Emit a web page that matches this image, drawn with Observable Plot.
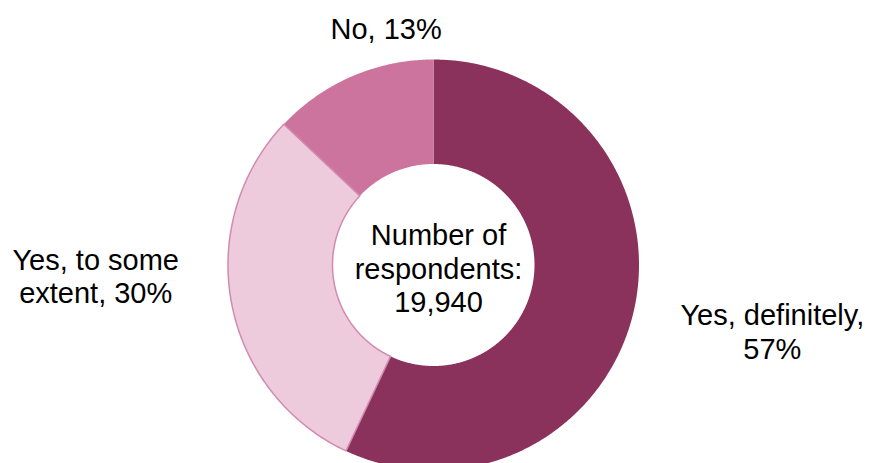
<!DOCTYPE html>
<html>
<head>
<meta charset="utf-8">
<script src="https://cdn.jsdelivr.net/npm/d3@7"></script>
<script src="https://cdn.jsdelivr.net/npm/@observablehq/plot@0.6"></script>
<style>
  html, body { margin: 0; padding: 0; background: #ffffff; }
  #chart svg { display: block; background: #ffffff; }
</style>
</head>
<body>
<div id="chart"></div>
<script>
// ---- data ----
const categories = ["Yes, definitely", "Yes, to some extent", "No"];
const shares = [57, 30, 13];
const labels = ["Yes, definitely,\n57%", "Yes, to some\nextent, 30%", "No, 13%"];
const colors = ["#8a325c", "#eecbdc", "#cd749e"];
const centerText = ["Number of", "respondents:", "19,940"];

// ---- layout ----
const W = 870, H = 463;
const cx = 433, cy = 264.5, R = 205.5;   // pixel centre and outer radius
const innerFrac = 101 / 205.5;
const fontFamily = "'Liberation Sans', Arial, sans-serif";
const fontSize = 29;
const lineHeight = 1.16;

const total = d3.sum(shares);
let acc = 0;
const slices = categories.map((c, i) => {
  const a0 = acc / total * 2 * Math.PI;
  acc += shares[i];
  const a1 = acc / total * 2 * Math.PI;
  return {key: c, a0, a1, mid: (a0 + a1) / 2, color: colors[i], label: labels[i]};
});

function ringPoints(s) {
  const n = Math.max(8, Math.ceil((s.a1 - s.a0) / (Math.PI / 360)));
  const pts = [];
  for (let k = 0; k <= n; k++) {
    const a = s.a0 + (s.a1 - s.a0) * k / n;
    pts.push({key: s.key, x: Math.sin(a), y: Math.cos(a)});
  }
  for (let k = n; k >= 0; k--) {
    const a = s.a0 + (s.a1 - s.a0) * k / n;
    pts.push({key: s.key, x: innerFrac * Math.sin(a), y: innerFrac * Math.cos(a)});
  }
  return pts;
}

const labelR = 1.5;
const nudges = {
  "Yes, definitely": [38, -1],
  "Yes, to some extent": [-35, -47],
  "No": [75, 46]
};

const drawOrder = ["Yes, definitely", "No", "Yes, to some extent"];
const sliceMarks = drawOrder.map(k => {
  const s = slices.find(d => d.key === k);
  const outlined = k === "Yes, to some extent";
  return Plot.line(ringPoints(s), {
    x: "x", y: "y", curve: "linear-closed",
    fill: s.color,
    stroke: outlined ? "#d28ab0" : "none",
    strokeWidth: outlined ? 1.5 : 0
  });
});

const labelMarks = slices.map(s => Plot.text([s], {
  x: d => labelR * Math.sin(d.mid),
  y: d => labelR * Math.cos(d.mid),
  text: "label",
  dx: nudges[s.key][0],
  dy: nudges[s.key][1],
  textAnchor: "middle",
  lineAnchor: "middle",
  lineHeight,
  fontSize,
  fontFamily,
  fill: "#000000"
}));

const chart = Plot.plot({
  width: W,
  height: H,
  marginTop: 0, marginBottom: 0, marginLeft: 0, marginRight: 0,
  style: {background: "#ffffff", fontFamily},
  x: {domain: [-cx / R, (W - cx) / R], axis: null},
  y: {domain: [-(H - cy) / R, cy / R], axis: null},
  marks: [
    ...sliceMarks,
    ...labelMarks,
    Plot.text([centerText.join("\n")], {
      x: () => 0, y: () => 0, text: d => d,
      dx: 5, dy: 3,
      textAnchor: "middle",
      lineAnchor: "middle",
      lineHeight,
      fontSize,
      fontFamily,
      fill: "#000000"
    })
  ]
});

document.getElementById("chart").appendChild(chart);
</script>
</body>
</html>
